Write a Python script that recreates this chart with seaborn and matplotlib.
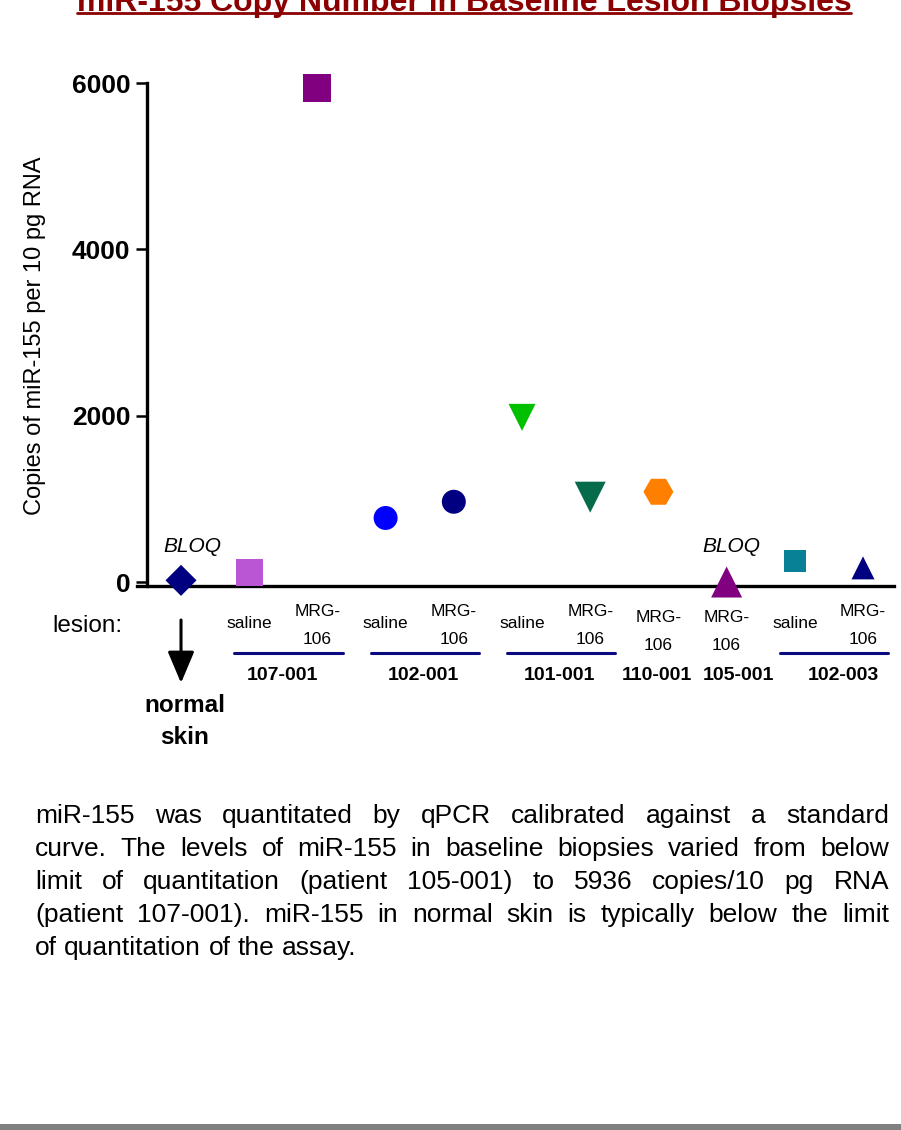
import matplotlib
matplotlib.use("Agg")
import pandas as pd
import seaborn as sns
import matplotlib.pyplot as plt
from matplotlib.transforms import blended_transform_factory
from matplotlib.lines import Line2D
from matplotlib.patches import Rectangle

# data
samples = ["normal skin", "107-001 saline", "107-001 MRG-106", "102-001 saline",
           "102-001 MRG-106", "101-001 saline", "101-001 MRG-106", "110-001 MRG-106",
           "105-001 MRG-106", "102-003 saline", "102-003 MRG-106"]
copies = [20, 115, 5936, 770, 965, 1980, 1020, 1085, 0, 250, 170]
colors = ["#000080", "#BA55D3", "#800080", "#0000FF", "#000080", "#00C000",
          "#066B4B", "#FF8000", "#800080", "#088096", "#000080"]
markers = ["D", "s", "s", "o", "o", "v", "v", "H", "^", "s", "^"]
sizes = [250, 378, 406, 298, 298, 378, 498, 466, 498, 251, 274]

patients = ["107-001", "102-001", "101-001", "110-001", "105-001", "102-003"]
pairs = [(1, 2), (3, 4), (5, 6), (9, 10)]
singles = [7, 8]
patient_x = [1.49, 3.56, 5.55, 6.98, 8.18, 9.71]
yticks = [0, 2000, 4000, 6000]

title = "miR-155 Copy Number in Baseline Lesion Biopsies"
ylabel = "Copies of miR-155 per 10 pg RNA"
body = ["miR-155 was quantitated by qPCR calibrated against a standard",
        "curve. The levels of miR-155 in baseline biopsies varied from below",
        "limit of quantitation (patient 105-001) to 5936 copies/10 pg RNA",
        "(patient 107-001). miR-155 in normal skin is typically below the limit",
        "of quantitation of the assay."]

W, H = 901, 1130
sns.set_theme(style="ticks")
plt.rcParams["font.family"] = ["Liberation Sans", "DejaVu Sans"]
plt.rcParams["text.color"] = "black"
plt.rcParams["axes.labelcolor"] = "black"
plt.rcParams["ytick.color"] = "black"
plt.rcParams["ytick.labelcolor"] = "black"

fig = plt.figure(figsize=(W / 100, H / 100), dpi=100)
ax = fig.add_axes([0.1517, 0.4739, 0.8402, 0.4600])

df = pd.DataFrame({"sample": samples, "pos": range(len(samples)), "copies": copies})
sns.scatterplot(data=df, x="pos", y="copies", hue="sample", style="sample", size="sample",
                palette=dict(zip(samples, colors)), markers=dict(zip(samples, markers)),
                sizes=dict(zip(samples, sizes)), linewidth=0, legend=False, ax=ax,
                zorder=3, clip_on=False)

# spines first (set_position resets the ticks)
for s in ["top", "right"]:
    ax.spines[s].set_visible(False)
ax.spines["left"].set_position(("data", -0.5))
ax.spines["left"].set_bounds(-48, 6000)
ax.spines["bottom"].set_position(("data", -48))
for s in ["left", "bottom"]:
    ax.spines[s].set_linewidth(2.4)
    ax.spines[s].set_color("black")

ax.set_xlim(-0.65, 10.45)
ax.set_ylim(-150, 6100)
ax.set_xticks([])
ax.set_xlabel("")
ax.set_yticks(yticks, labels=[str(t) for t in yticks])
ax.tick_params(axis="y", length=8, width=1.8, pad=4, labelsize=19, color="black",
               labelcolor="black")
ax.set_ylabel(ylabel, fontsize=17, va="center", color="black")
ax.yaxis.set_label_coords(-0.1343, 0.497)


def fy(py):
    return 1 - py / H


bx = blended_transform_factory(ax.transData, fig.transFigure)

# title with underline
fig.text(464 / W, fy(11), title, ha="center", va="baseline", fontsize=23,
         fontweight="bold", color="#8B0000")
fig.add_artist(Line2D([77 / W, 851 / W], [fy(13), fy(13)], lw=2, color="#8B0000"))

# BLOQ notes
for xp in [192, 731]:
    fig.text(xp / W, fy(547), "BLOQ", ha="center", va="center", fontsize=15, style="italic")

fig.text(52 / W, fy(626), "lesion:", ha="left", va="center", fontsize=17.5)
ax.annotate("", xy=(0, fy(683)), xytext=(0, fy(620)), xycoords=bx, textcoords=bx,
            arrowprops=dict(arrowstyle="-|>,head_length=0.97,head_width=0.41",
                            mutation_scale=20, lw=2.2, color="black",
                            shrinkA=0, shrinkB=0), annotation_clip=False)
fig.text(185 / W, fy(705), "normal", ha="center", va="center", fontsize=17.5, fontweight="bold")
fig.text(185 / W, fy(737), "skin", ha="center", va="center", fontsize=17.5, fontweight="bold")

for a, b in pairs:
    ax.text(a, fy(624), "saline", transform=bx, ha="center", va="center", fontsize=12.5)
    ax.text(b, fy(611), "MRG-", transform=bx, ha="center", va="center", fontsize=12.5)
    ax.text(b, fy(639), "106", transform=bx, ha="center", va="center", fontsize=12.5)
    ax.add_line(Line2D([a - 0.22, b + 0.37], [fy(653), fy(653)], transform=bx,
                       lw=2.2, color="#0A0A80", clip_on=False))
for p in singles:
    ax.text(p, fy(618), "MRG-", transform=bx, ha="center", va="center", fontsize=12.5)
    ax.text(p, fy(646), "106", transform=bx, ha="center", va="center", fontsize=12.5)
for name, xp in zip(patients, patient_x):
    ax.text(xp, fy(675), name, transform=bx, ha="center", va="center", fontsize=14,
            fontweight="bold")

# justified paragraph
renderer = fig.canvas.get_renderer()
left, right = 35, 889
for i, line in enumerate(body):
    words = line.split()
    texts = [fig.text(0, 0, w, fontsize=19, va="baseline") for w in words]
    widths = [t.get_window_extent(renderer).width for t in texts]
    if i < len(body) - 1:
        gap = (right - left - sum(widths)) / (len(words) - 1)
    else:
        gap = 0.278 * 19 * 100 / 72
    x = left
    for t, w in zip(texts, widths):
        t.set_position((x / W, fy(823 + 33 * i)))
        x += w + gap

# grey strip at the bottom
fig.add_artist(Rectangle((0, 0), 1, 6 / H, transform=fig.transFigure, color="#808080", lw=0))

for lab in ax.get_yticklabels():
    lab.set_fontweight("bold")

fig.savefig("out.png", dpi=100)
